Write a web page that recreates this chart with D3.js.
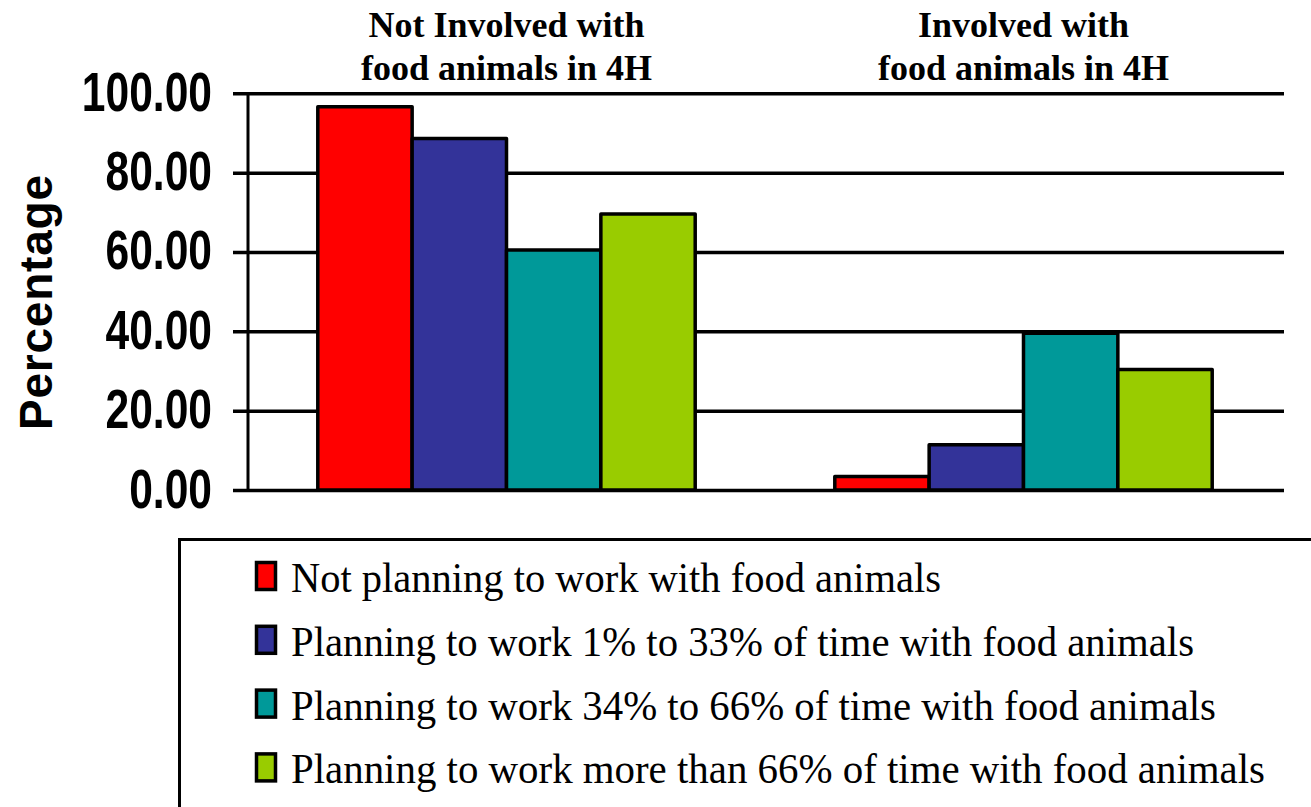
<!DOCTYPE html>
<html>
<head>
<meta charset="utf-8">
<script src="https://cdn.jsdelivr.net/npm/d3@7"></script>
<style>
  body { margin: 0; background: #fff; }
  svg { display: block; }
  .serif { font-family: "Liberation Serif", "Times New Roman", Times, "Nimbus Roman", "Nimbus Roman No9 L", FreeSerif, "Noto Serif", "DejaVu Serif", Georgia, serif; }
</style>
</head>
<body>
<script>
// chart data
var groups = ["Not Involved with\nfood animals in 4H", "Involved with\nfood animals in 4H"];
var seriesNames = [
  "Not planning to work with food animals",
  "Planning to work 1% to 33% of time with food animals",
  "Planning to work 34% to 66% of time with food animals",
  "Planning to work more than 66% of time with food animals"
];
var notInvolved = [96.6, 88.6, 60.5, 69.6];
var involved = [3.4, 11.4, 39.5, 30.4];
var yTicks = [0, 20, 40, 60, 80, 100];
var colors = ["#ff0000", "#333399", "#009999", "#99cc00"];

var W = 1311, H = 807;
var svg = d3.select("body").append("svg")
  .attr("width", W)
  .attr("height", H);

var y = d3.scaleLinear().domain([0, 100]).range([490, 93.3]);

var x0 = d3.scaleBand()
  .domain(groups)
  .range([248, 1282])
  .paddingInner(0.27)
  .paddingOuter(0.135);

var x1 = d3.scaleBand()
  .domain(d3.range(seriesNames.length))
  .range([0, x0.bandwidth()]);

// gridlines + tick labels
var yAxis = svg.append("g")
  .attr("transform", "translate(233,0)")
  .call(d3.axisLeft(y)
    .tickValues(yTicks)
    .tickSize(-(1284 - 233))
    .tickFormat(function(d) { return d.toFixed(2); }));

yAxis.select(".domain").remove();
yAxis.selectAll(".tick line")
  .attr("stroke", "#000")
  .attr("stroke-width", 3.5);
yAxis.selectAll(".tick text")
  .attr("x", 0)
  .attr("dy", null)
  .attr("y", 17)
  .attr("font-family", "'Liberation Sans', Arial, sans-serif")
  .attr("font-weight", "bold")
  .attr("font-size", 56)
  .attr("fill", "#000")
  .attr("text-anchor", "end")
  .attr("transform", "translate(-21,0) scale(0.76,1)");

// vertical axis line
svg.append("line")
  .attr("x1", 248).attr("x2", 248)
  .attr("y1", y(100)).attr("y2", y(0))
  .attr("stroke", "#000")
  .attr("stroke-width", 3);

// bars
var rows = [notInvolved, involved];
var groupSel = svg.selectAll("g.grp")
  .data(groups)
  .enter()
  .append("g")
  .attr("class", "grp")
  .attr("transform", function(d) { return "translate(" + x0(d) + ",0)"; });

groupSel.selectAll("rect")
  .data(function(d, i) { return rows[i]; })
  .enter()
  .append("rect")
  .attr("x", function(d, i) { return x1(i); })
  .attr("width", x1.bandwidth())
  .attr("y", function(d) { return y(d); })
  .attr("height", function(d) { return y(0) - y(d); })
  .style("fill", function(d, i) { return colors[i]; })
  .attr("stroke", "#000")
  .attr("stroke-width", 3.5)
  .attr("stroke-linejoin", "round");

// group titles
groupSel.append("text")
  .attr("class", "serif")
  .attr("text-anchor", "middle")
  .attr("font-weight", "bold")
  .attr("font-size", 36)
  .attr("fill", "#000")
  .selectAll("tspan")
  .data(function(d) { return d.split("\n"); })
  .enter()
  .append("tspan")
  .attr("x", x0.bandwidth() / 2)
  .attr("y", function(d, i) { return i === 0 ? 37 : 80; })
  .text(function(d) { return d; });

// y axis title
svg.append("text")
  .attr("transform", "translate(51.7,302.5) rotate(-90)")
  .attr("text-anchor", "middle")
  .attr("font-family", "'Liberation Sans', Arial, sans-serif")
  .attr("font-weight", "bold")
  .attr("font-size", 46)
  .attr("textLength", 255)
  .attr("lengthAdjust", "spacing")
  .attr("fill", "#000")
  .text("Percentage");

// legend
svg.append("rect")
  .attr("x", 179.5).attr("y", 539.5)
  .attr("width", 1300).attr("height", 400)
  .attr("fill", "none")
  .attr("stroke", "#000")
  .attr("stroke-width", 3);

var legendWidths = [650, 903, 925, 974];
var legend = svg.selectAll("g.leg")
  .data(seriesNames)
  .enter()
  .append("g")
  .attr("class", "leg")
  .attr("transform", function(d, i) { return "translate(0," + (592 + i * 63.8) + ")"; });

legend.append("rect")
  .attr("x", 256.5).attr("y", -29.5)
  .attr("width", 19).attr("height", 27)
  .style("fill", function(d, i) { return colors[i]; })
  .attr("stroke", "#000")
  .attr("stroke-width", 3.5);

legend.append("text")
  .attr("class", "serif")
  .attr("x", 291)
  .attr("y", 0)
  .attr("font-size", 42)
  .attr("textLength", function(d, i) { return legendWidths[i]; })
  .attr("lengthAdjust", "spacingAndGlyphs")
  .attr("fill", "#000")
  .text(function(d) { return d; });
</script>
</body>
</html>
